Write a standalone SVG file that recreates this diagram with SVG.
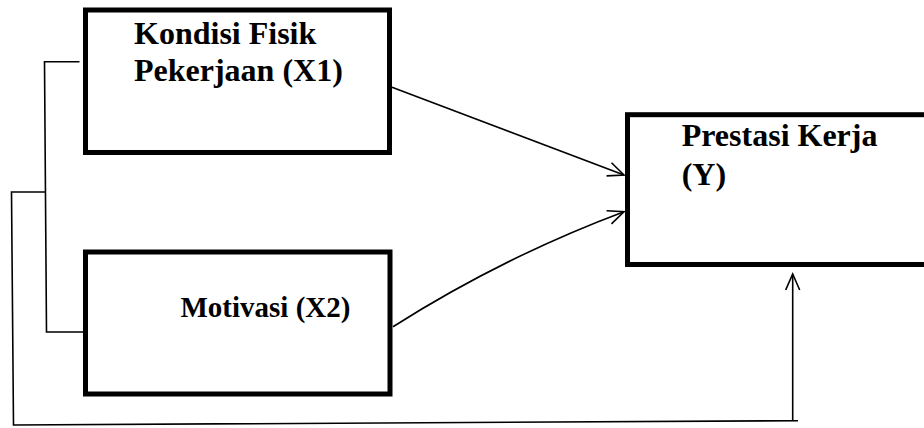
<svg xmlns="http://www.w3.org/2000/svg" width="924" height="428" viewBox="0 0 924 428">
<style>
.box{fill:#fff;stroke:#000;stroke-width:5}
.lbl{font-family:"Liberation Serif","Times New Roman",serif;font-weight:bold;font-size:32px;fill:#000}
.small{font-size:29px}
.ln{fill:none;stroke:#000;stroke-width:1.6}
</style>
<defs>
<marker id="arr" markerUnits="userSpaceOnUse" markerWidth="20" markerHeight="20" refX="17" refY="8" orient="auto">
<path d="M1,1 L17,8 L1,15" fill="none" stroke="#000" stroke-width="1.6"/>
</marker>
</defs>
<rect width="924" height="428" fill="#fff"/>
<g id="connectors">
<path class="ln" d="M79.5,61.7 H44.5 L46.5,332 H88"/>
<path class="ln" d="M46,192 H11.5 L13.5,425 L798,420.7"/>
<path class="ln" d="M792.7,420.7 V274" marker-end="url(#arr)"/>
<path class="ln" d="M392,87.3 L624,175" marker-end="url(#arr)"/>
<path class="ln" d="M393,326.7 Q503,257 624,211.7" marker-end="url(#arr)"/>
</g>
<g id="x1">
<rect class="box" x="85.5" y="10" width="304" height="142.5"/>
<text class="lbl" x="134" y="44">Kondisi Fisik</text>
<text class="lbl" x="134" y="81">Pekerjaan (X1)</text>
</g>
<g id="x2">
<rect class="box" x="85.5" y="252" width="304.5" height="142"/>
<text class="lbl small" x="180.5" y="317">Motivasi (X2)</text>
</g>
<g id="y">
<rect class="box" x="627.5" y="114.7" width="320" height="149.8"/>
<text class="lbl" x="681.7" y="146">Prestasi Kerja</text>
<text class="lbl" x="681.7" y="185">(Y)</text>
</g>
</svg>
